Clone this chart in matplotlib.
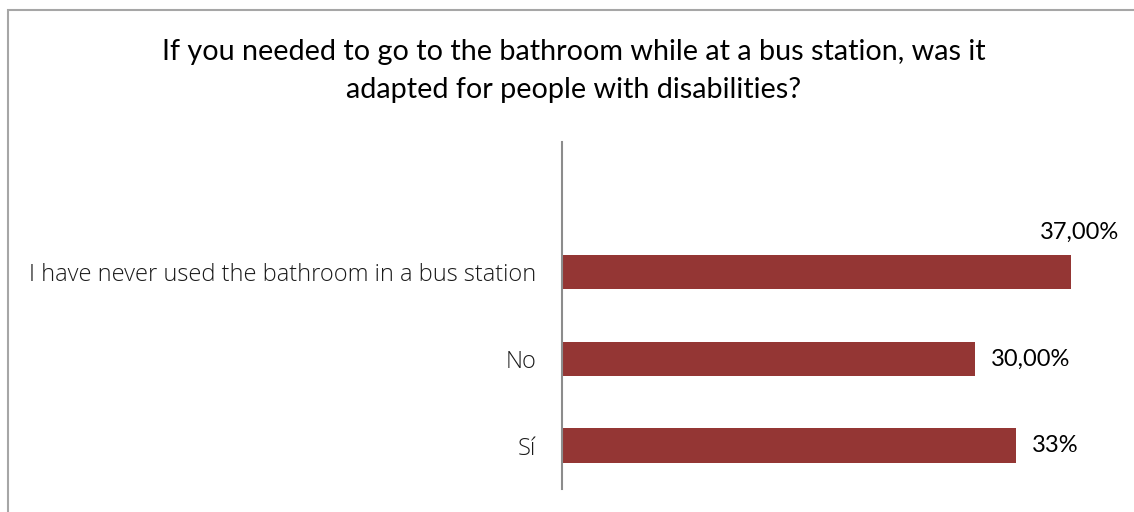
import matplotlib
matplotlib.use("Agg")
import matplotlib.pyplot as plt
from matplotlib.patches import Rectangle

categories = ["Sí", "No", "I have never used the bathroom in a bus station"]
values = [33, 30, 37]
value_labels = ["33%", "30,00%", "37,00%"]
title = "If you needed to go to the bathroom while at a bus station, was it\nadapted for people with disabilities?"

W, H = 1134, 512
fig = plt.figure(figsize=(W / 100, H / 100), dpi=100)
fig.patch.set_facecolor("white")

# outer border (only top and left visible)
fig.add_artist(Rectangle((8 / W, -0.1), 1.2, (H - 10) / H + 0.1, transform=fig.transFigure,
                         fill=False, edgecolor="#A6A6A6", linewidth=1.5))

ax_left, ax_right = 562, 1112
ax_top, ax_bot = 142, 489
ax = fig.add_axes([ax_left / W, 1 - ax_bot / H, (ax_right - ax_left) / W, (ax_bot - ax_top) / H])

bar_color = "#943634"
ypos = list(range(len(categories)))
ax.barh(ypos, values, height=0.4, color=bar_color)
ax.set_xlim(0, 40)
ax.set_ylim(-0.5, 3.5)
ax.set_yticks(ypos)
ax.set_yticklabels(categories, fontsize=17, family="Open Sans", fontweight="light", color="#1a1a1a")
ax.tick_params(axis="y", length=0, pad=18.5)
ax.set_xticks([])
for s in ["top", "right", "bottom"]:
    ax.spines[s].set_visible(False)
ax.spines["left"].set_color("#8C8C8C")
ax.spines["left"].set_linewidth(1.5)

for y, v, lab in zip(ypos, values, value_labels):
    if lab == "37,00%":
        ax.text(v + 0.65, y + 0.46, lab, ha="center", va="center", fontsize=17, family="Lato",
                color="black")
    else:
        ax.text(v + 1.2, y, lab, ha="left", va="center", fontsize=17, family="Lato", color="black")

fig.text(574 / W, 1 - 71 / H, title, ha="center", va="center", fontsize=20.7, family="Lato",
         color="black", linespacing=1.55)

fig.savefig("out.png", dpi=100)
